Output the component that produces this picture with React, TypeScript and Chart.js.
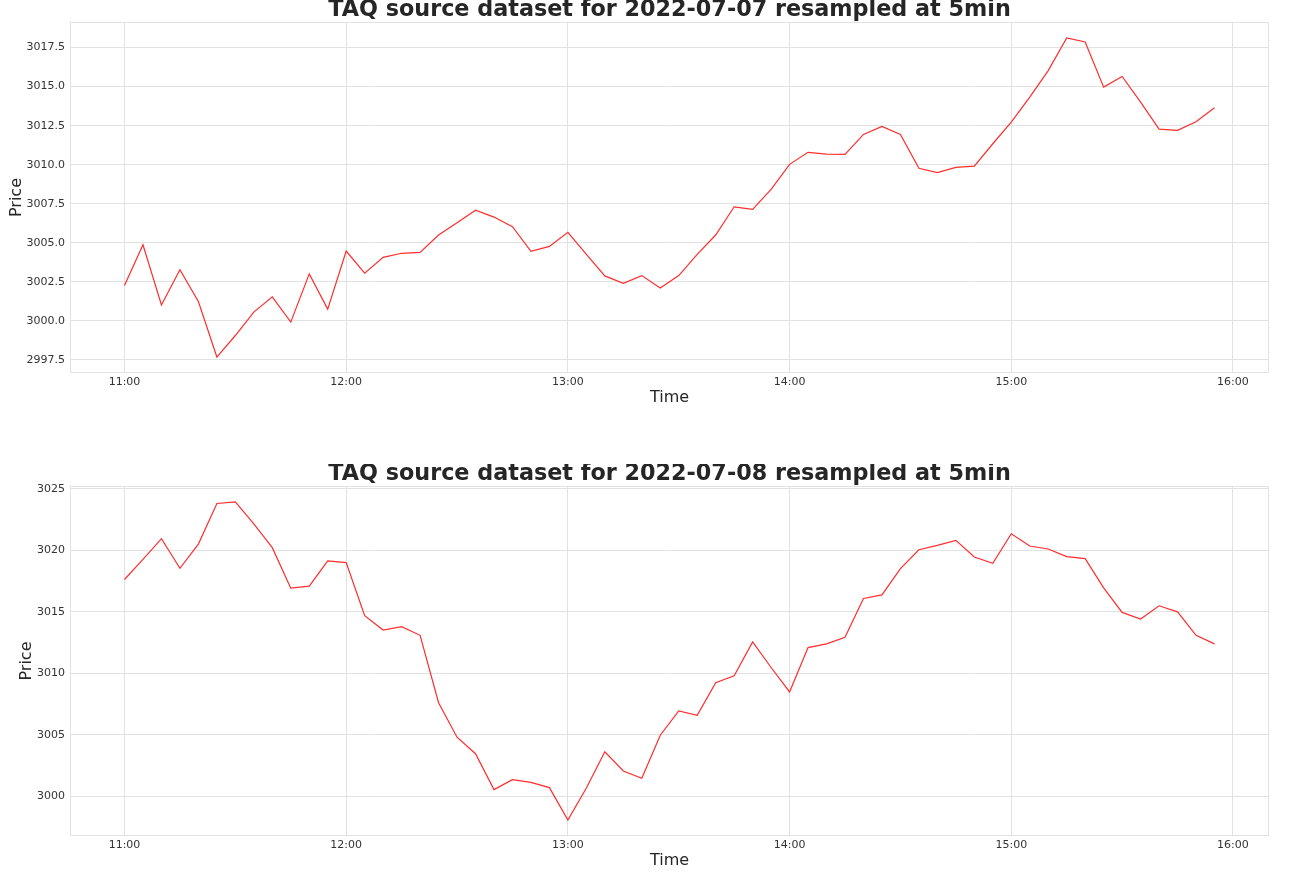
import React, { useEffect, useRef } from "react";
import { Chart, registerables } from "chart.js";

Chart.register(...registerables);

const times = [
  "11:00", "11:05", "11:10", "11:15", "11:20", "11:25", "11:30", "11:35", "11:40", "11:45",
  "11:50", "11:55", "12:00", "12:05", "12:10", "12:15", "12:20", "12:25", "12:30", "12:35",
  "12:40", "12:45", "12:50", "12:55", "13:00", "13:05", "13:10", "13:15", "13:20", "13:25",
  "13:30", "13:35", "13:40", "13:45", "13:50", "13:55", "14:00", "14:05", "14:10", "14:15",
  "14:20", "14:25", "14:30", "14:35", "14:40", "14:45", "14:50", "14:55", "15:00", "15:05",
  "15:10", "15:15", "15:20", "15:25", "15:30", "15:35", "15:40", "15:45", "15:50", "15:55",
];

const pricesJul07 = [
  3002.25, 3004.87, 3001.01, 3003.27, 3001.23, 2997.67, 2999.05, 3000.55, 3001.53, 2999.91,
  3003.0, 3000.74, 3004.46, 3003.04, 3004.06, 3004.32, 3004.38, 3005.49, 3006.27, 3007.08,
  3006.64, 3006.02, 3004.44, 3004.76, 3005.66, 3004.25, 3002.87, 3002.4, 3002.89, 3002.1,
  3002.89, 3004.25, 3005.49, 3007.3, 3007.13, 3008.41, 3010.02, 3010.79, 3010.68, 3010.66,
  3011.94, 3012.45, 3011.94, 3009.77, 3009.49, 3009.83, 3009.9, 3011.34, 3012.73, 3014.33,
  3016.03, 3018.12, 3017.86, 3014.97, 3015.65, 3014.01, 3012.28, 3012.2, 3012.75, 3013.65,
];

const pricesJul08 = [
  3017.63, 3019.27, 3020.95, 3018.54, 3020.51, 3023.81, 3023.94, 3022.16, 3020.22, 3016.92,
  3017.09, 3019.14, 3019.0, 3014.68, 3013.52, 3013.79, 3013.09, 3007.61, 3004.8, 3003.46,
  3000.54, 3001.35, 3001.13, 3000.7, 2998.06, 3000.67, 3003.62, 3002.05, 3001.46, 3004.96,
  3006.94, 3006.58, 3009.23, 3009.8, 3012.55, 3010.47, 3008.48, 3012.09, 3012.39, 3012.93,
  3016.09, 3016.38, 3018.52, 3020.05, 3020.4, 3020.81, 3019.46, 3018.95, 3021.35, 3020.35,
  3020.11, 3019.49, 3019.33, 3016.95, 3014.95, 3014.41, 3015.49, 3015.0, 3013.09, 3012.39,
];

const xTickLabels = ["11:00", "12:00", "13:00", "14:00", "15:00", "16:00"];
const yTicksJul07 = ["2997.5", "3000.0", "3002.5", "3005.0", "3007.5", "3010.0", "3012.5", "3015.0", "3017.5"];
const yTicksJul08 = ["3000", "3005", "3010", "3015", "3020", "3025"];

const titleJul07 = "TAQ source dataset for 2022-07-07 resampled at 5min";
const titleJul08 = "TAQ source dataset for 2022-07-08 resampled at 5min";
const xTitle = "Time";
const yTitle = "Price";

const FONT = "'DejaVu Sans', sans-serif";
const TEXT = "#262626";
const TICK = "#333333";
const GRID = "#e2e2e2";

const toMin = (s: string) => {
  const [h, m] = s.split(":").map(Number);
  return h * 60 + m;
};

const framePlugin = {
  id: "frame",
  beforeDatasetsDraw(chart: any) {
    const { ctx, chartArea } = chart;
    ctx.save();
    ctx.strokeStyle = GRID;
    ctx.lineWidth = 1;
    ctx.strokeRect(
      chartArea.left + 0.5,
      chartArea.top + 0.5,
      chartArea.right - chartArea.left - 1,
      chartArea.bottom - chartArea.top - 1
    );
    ctx.restore();
  },
};

type Cfg = {
  title: string;
  values: number[];
  yTicks: string[];
  yTitlePad: number;
  xAxisHeight: number;
  xTitlePad: number;
};

function makeConfig(c: Cfg): any {
  const xs = times.map(toMin);
  const data = c.values.map((v, i) => ({ x: xs[i], y: v }));
  const xMin = Math.min(...xs);
  const xMax = Math.max(...xs);
  const xPad = (xMax - xMin) * 0.05;
  const yMin = Math.min(...c.values);
  const yMax = Math.max(...c.values);
  const yPad = (yMax - yMin) * 0.05;
  return {
    type: "line",
    data: {
      datasets: [
        {
          data,
          borderColor: "rgb(255, 45, 45)",
          borderWidth: 1.2,
          pointRadius: 0,
          tension: 0,
          fill: false,
        },
      ],
    },
    options: {
      animation: false,
      responsive: false,
      maintainAspectRatio: false,
      events: [],
      layout: { padding: { left: 0, right: 22, top: 0, bottom: 0 } },
      plugins: {
        legend: { display: false },
        tooltip: { enabled: false },
        title: {
          display: true,
          fullSize: false,
          text: c.title,
          color: TEXT,
          font: { family: FONT, size: 22.3, weight: "bold", lineHeight: 0.9 },
          padding: { top: 0, bottom: 1.93 },
        },
      },
      scales: {
        x: {
          type: "linear",
          bounds: "data",
          min: xMin - xPad,
          max: xMax + xPad,
          afterBuildTicks: (s: any) => {
            s.ticks = xTickLabels.map((l) => ({ value: toMin(l) }));
          },
          afterFit: (s: any) => {
            s.height = c.xAxisHeight;
          },
          ticks: {
            autoSkip: false,
            maxRotation: 0,
            padding: 3,
            color: TICK,
            font: { family: FONT, size: 11 },
            callback: (_v: any, i: number) => xTickLabels[i],
          },
          grid: { color: GRID, lineWidth: 1, drawTicks: false },
          border: { display: false },
          title: {
            display: true,
            text: xTitle,
            color: TEXT,
            font: { family: FONT, size: 16 },
            padding: { top: 0, bottom: c.xTitlePad },
          },
        },
        y: {
          type: "linear",
          bounds: "data",
          min: yMin - yPad,
          max: yMax + yPad,
          afterBuildTicks: (s: any) => {
            s.ticks = c.yTicks.map((l) => ({ value: parseFloat(l) }));
          },
          afterFit: (s: any) => {
            s.width = 70;
          },
          ticks: {
            autoSkip: false,
            padding: 5,
            color: TICK,
            font: { family: FONT, size: 11 },
            callback: (_v: any, i: number) => c.yTicks[i],
          },
          grid: { color: GRID, lineWidth: 1, drawTicks: false },
          border: { display: false },
          title: {
            display: true,
            text: yTitle,
            color: TEXT,
            font: { family: FONT, size: 16 },
            padding: { top: c.yTitlePad, bottom: 0 },
          },
        },
      },
    },
    plugins: [framePlugin],
  };
}

function PriceChart({ cfg, top, height }: { cfg: Cfg; top: number; height: number }) {
  const ref = useRef<HTMLCanvasElement | null>(null);
  useEffect(() => {
    if (!ref.current) return;
    const chart = new Chart(ref.current, makeConfig(cfg));
    return () => chart.destroy();
  }, []);
  return (
    <canvas
      ref={ref}
      width={1291}
      height={height}
      style={{ position: "absolute", left: 0, top, width: 1291, height, display: "block" }}
    />
  );
}

export default function App() {
  return (
    <div
      style={{
        position: "absolute",
        left: 0,
        top: 0,
        width: 1291,
        height: 875,
        overflow: "hidden",
        background: "#ffffff",
      }}
    >
      <PriceChart
        top={0}
        height={430}
        cfg={{ title: titleJul07, values: pricesJul07, yTicks: yTicksJul07, yTitlePad: 7.6, xAxisHeight: 57, xTitlePad: 22.9 }}
      />
      <PriceChart
        top={464}
        height={411}
        cfg={{ title: titleJul08, values: pricesJul08, yTicks: yTicksJul08, yTitlePad: 17.6, xAxisHeight: 39, xTitlePad: 4.9 }}
      />
    </div>
  );
}
